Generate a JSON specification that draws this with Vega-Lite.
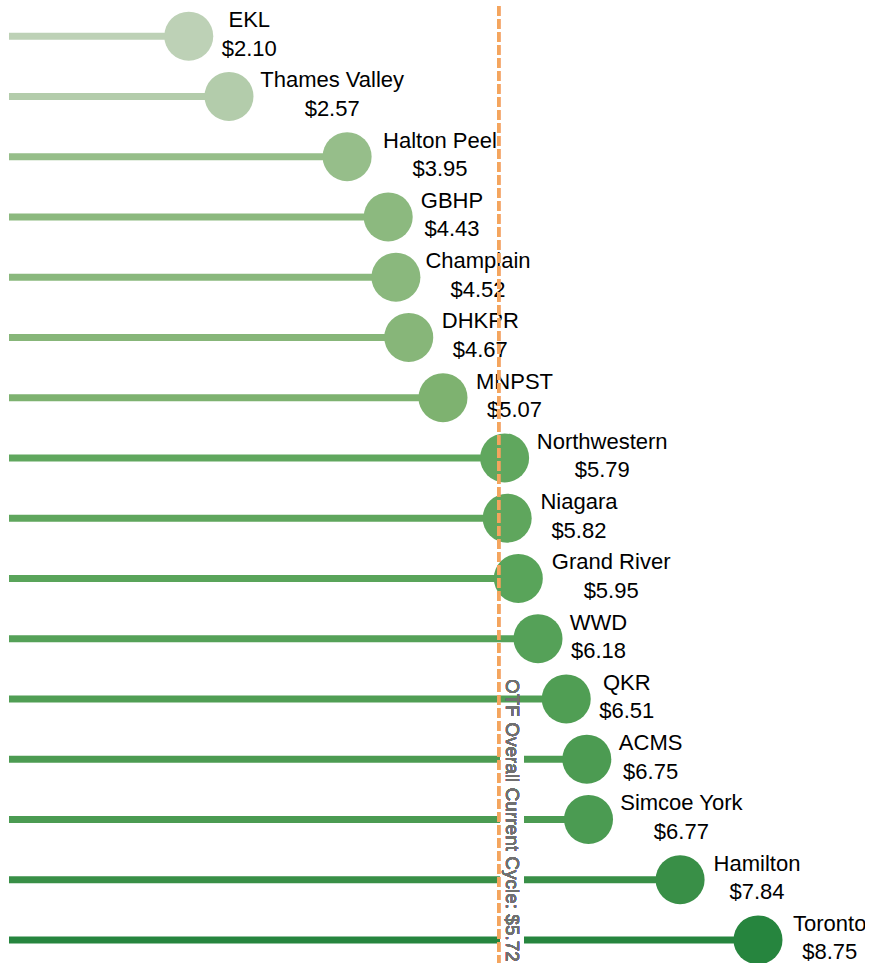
{
  "$schema": "https://vega.github.io/schema/vega-lite/v6.json",
  "width": 856,
  "height": 964,
  "autosize": {"type": "none"},
  "padding": {"left": 9, "top": 6, "right": 0, "bottom": 0},
  "background": "white",
  "config": {"view": {"stroke": null}, "font": "Liberation Sans"},
  "data": {
    "values": [
      {"name": "EKL", "value": 2.10},
      {"name": "Thames Valley", "value": 2.57},
      {"name": "Halton Peel", "value": 3.95},
      {"name": "GBHP", "value": 4.43},
      {"name": "Champlain", "value": 4.52},
      {"name": "DHKPR", "value": 4.67},
      {"name": "MNPST", "value": 5.07},
      {"name": "Northwestern", "value": 5.79},
      {"name": "Niagara", "value": 5.82},
      {"name": "Grand River", "value": 5.95},
      {"name": "WWD", "value": 6.18},
      {"name": "QKR", "value": 6.51},
      {"name": "ACMS", "value": 6.75},
      {"name": "Simcoe York", "value": 6.77},
      {"name": "Hamilton", "value": 7.84},
      {"name": "Toronto", "value": 8.75}
    ]
  },
  "layer": [
    {
      "mark": {"type": "rule", "strokeWidth": 7},
      "encoding": {
        "y": {
          "field": "name",
          "type": "nominal",
          "axis": null,
          "scale": {
            "type": "band",
            "paddingInner": 0,
            "paddingOuter": 0,
            "domain": ["EKL", "Thames Valley", "Halton Peel", "GBHP", "Champlain", "DHKPR", "MNPST", "Northwestern", "Niagara", "Grand River", "WWD", "QKR", "ACMS", "Simcoe York", "Hamilton", "Toronto"]
          }
        },
        "x": {"field": "value", "type": "quantitative", "axis": null, "scale": {"domain": [0, 10], "nice": false, "zero": true}},
        "x2": {"datum": 0},
        "color": {
          "field": "value",
          "type": "quantitative",
          "legend": null,
          "scale": {"domain": [2.1, 5.07, 5.95, 8.75], "range": ["#bdd1b6", "#7eb270", "#59a45a", "#26853e"]}
        }
      }
    },
    {
      "mark": {"type": "circle", "size": 2401, "opacity": 1},
      "encoding": {
        "y": {"field": "name", "type": "nominal"},
        "x": {"field": "value", "type": "quantitative"},
        "color": {"field": "value", "type": "quantitative"}
      }
    },
    {
      "mark": {
        "type": "text",
        "fontSize": 22,
        "font": "Liberation Sans",
        "color": "#000000",
        "align": "center",
        "baseline": "alphabetic",
        "dy": -9,
        "dx": {"expr": "33 + max(22*(0.7*length(replace(datum.name, regexp('[^A-Z]','g'), '')) + 0.47*length(replace(datum.name, regexp('[^a-z]','g'), '')) + 0.28*length(replace(datum.name, regexp('[^ ]','g'), ''))), 55)/2"}
      },
      "encoding": {
        "y": {"field": "name", "type": "nominal"},
        "x": {"field": "value", "type": "quantitative"},
        "text": {"field": "name"}
      }
    },
    {
      "mark": {
        "type": "text",
        "fontSize": 22,
        "font": "Liberation Sans",
        "color": "#000000",
        "align": "center",
        "baseline": "alphabetic",
        "dy": 19.5,
        "dx": {"expr": "33 + max(22*(0.7*length(replace(datum.name, regexp('[^A-Z]','g'), '')) + 0.47*length(replace(datum.name, regexp('[^a-z]','g'), '')) + 0.28*length(replace(datum.name, regexp('[^ ]','g'), ''))), 55)/2"}
      },
      "encoding": {
        "y": {"field": "name", "type": "nominal"},
        "x": {"field": "value", "type": "quantitative"},
        "text": {"field": "value", "type": "quantitative", "format": "$.2f"}
      }
    },
    {
      "mark": {"type": "rect", "color": "white", "opacity": 0.9, "xOffset": 2, "x2Offset": 25, "yOffset": 7, "y2Offset": 60},
      "encoding": {
        "x": {"datum": 5.72},
        "x2": {"datum": 5.72},
        "y": {"datum": "QKR", "type": "nominal"},
        "y2": {"datum": "Toronto"}
      }
    },
    {
      "mark": {"type": "rule", "color": "#f4a55e", "opacity": 0.72, "strokeWidth": 3, "strokeDash": [10, 3]},
      "encoding": {
        "x": {"datum": 5.72}
      }
    },
    {
      "mark": {
        "type": "text",
        "angle": 90,
        "align": "right",
        "baseline": "alphabetic",
        "fontSize": 19,
        "font": "Liberation Sans",
        "color": "#707070",
        "dx": 22,
        "dy": -7
      },
      "encoding": {
        "x": {"datum": 5.72},
        "y": {"datum": "Toronto", "type": "nominal"},
        "text": {"value": "OTF Overall Current Cycle: $5.72"}
      }
    }
  ]
}
